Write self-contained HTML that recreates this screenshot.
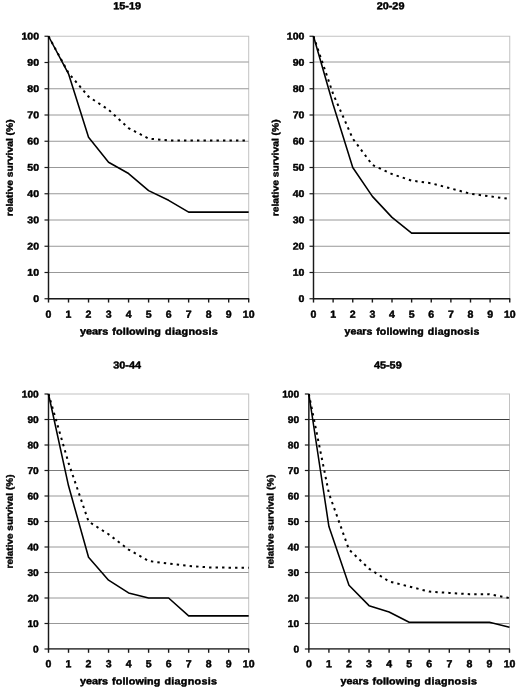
<!DOCTYPE html>
<html><head><meta charset="utf-8"><title>Relative survival</title>
<style>
html,body{margin:0;padding:0;background:#fff;}
body{width:520px;height:692px;overflow:hidden;}
svg{display:block;filter:blur(0.5px);}
text{font-family:"Liberation Sans",sans-serif;font-weight:bold;font-size:10px;fill:#000;stroke:#000;stroke-width:0.45px;stroke-linejoin:round;text-rendering:geometricPrecision;}
</style></head><body>
<svg width="520" height="692" viewBox="0 0 520 692">
<rect width="520" height="692" fill="#fff"/>

<g>
<rect x="48.5" y="36.25" width="200.2" height="262.5" fill="none" stroke="#c2c2c2" stroke-width="1"/>
<line x1="48.5" x2="248.7" y1="272.50" y2="272.50" stroke="#989898" stroke-width="1"/>
<line x1="48.5" x2="248.7" y1="246.25" y2="246.25" stroke="#989898" stroke-width="1"/>
<line x1="48.5" x2="248.7" y1="220.00" y2="220.00" stroke="#989898" stroke-width="1"/>
<line x1="48.5" x2="248.7" y1="193.75" y2="193.75" stroke="#989898" stroke-width="1"/>
<line x1="48.5" x2="248.7" y1="167.50" y2="167.50" stroke="#989898" stroke-width="1"/>
<line x1="48.5" x2="248.7" y1="141.25" y2="141.25" stroke="#989898" stroke-width="1"/>
<line x1="48.5" x2="248.7" y1="115.00" y2="115.00" stroke="#989898" stroke-width="1"/>
<line x1="48.5" x2="248.7" y1="88.75" y2="88.75" stroke="#989898" stroke-width="1"/>
<line x1="48.5" x2="248.7" y1="62.00" y2="62.00" stroke="#989898" stroke-width="1"/>
<line x1="48.5" x2="48.5" y1="36.25" y2="299.25" stroke="#1a1a1a" stroke-width="1.45"/>
<line x1="48.0" x2="249.2" y1="298.75" y2="298.75" stroke="#1a1a1a" stroke-width="1.5"/>
<line x1="44.5" x2="48.5" y1="298.75" y2="298.75" stroke="#1a1a1a" stroke-width="1.2"/>
<line x1="48.50" x2="48.50" y1="298.75" y2="302.55" stroke="#1a1a1a" stroke-width="1.4"/>
<line x1="44.5" x2="48.5" y1="272.50" y2="272.50" stroke="#1a1a1a" stroke-width="1.2"/>
<line x1="68.52" x2="68.52" y1="298.75" y2="302.55" stroke="#1a1a1a" stroke-width="1.4"/>
<line x1="44.5" x2="48.5" y1="246.25" y2="246.25" stroke="#1a1a1a" stroke-width="1.2"/>
<line x1="88.54" x2="88.54" y1="298.75" y2="302.55" stroke="#1a1a1a" stroke-width="1.4"/>
<line x1="44.5" x2="48.5" y1="220.00" y2="220.00" stroke="#1a1a1a" stroke-width="1.2"/>
<line x1="108.56" x2="108.56" y1="298.75" y2="302.55" stroke="#1a1a1a" stroke-width="1.4"/>
<line x1="44.5" x2="48.5" y1="193.75" y2="193.75" stroke="#1a1a1a" stroke-width="1.2"/>
<line x1="128.58" x2="128.58" y1="298.75" y2="302.55" stroke="#1a1a1a" stroke-width="1.4"/>
<line x1="44.5" x2="48.5" y1="167.50" y2="167.50" stroke="#1a1a1a" stroke-width="1.2"/>
<line x1="148.60" x2="148.60" y1="298.75" y2="302.55" stroke="#1a1a1a" stroke-width="1.4"/>
<line x1="44.5" x2="48.5" y1="141.25" y2="141.25" stroke="#1a1a1a" stroke-width="1.2"/>
<line x1="168.62" x2="168.62" y1="298.75" y2="302.55" stroke="#1a1a1a" stroke-width="1.4"/>
<line x1="44.5" x2="48.5" y1="115.00" y2="115.00" stroke="#1a1a1a" stroke-width="1.2"/>
<line x1="188.64" x2="188.64" y1="298.75" y2="302.55" stroke="#1a1a1a" stroke-width="1.4"/>
<line x1="44.5" x2="48.5" y1="88.75" y2="88.75" stroke="#1a1a1a" stroke-width="1.2"/>
<line x1="208.66" x2="208.66" y1="298.75" y2="302.55" stroke="#1a1a1a" stroke-width="1.4"/>
<line x1="44.5" x2="48.5" y1="62.50" y2="62.50" stroke="#1a1a1a" stroke-width="1.2"/>
<line x1="228.68" x2="228.68" y1="298.75" y2="302.55" stroke="#1a1a1a" stroke-width="1.4"/>
<line x1="44.5" x2="48.5" y1="36.25" y2="36.25" stroke="#1a1a1a" stroke-width="1.2"/>
<line x1="248.70" x2="248.70" y1="298.75" y2="302.55" stroke="#1a1a1a" stroke-width="1.4"/>
<text transform="translate(39.00,302.00) rotate(0.03) scale(1.055,0.98)" text-anchor="end">0</text>
<text transform="translate(48.50,317.65) rotate(0.03) scale(1.055,1.03)" text-anchor="middle">0</text>
<text transform="translate(39.00,275.75) rotate(0.03) scale(1.055,0.98)" text-anchor="end">10</text>
<text transform="translate(68.52,317.65) rotate(0.03) scale(1.055,1.03)" text-anchor="middle">1</text>
<text transform="translate(39.00,249.50) rotate(0.03) scale(1.055,0.98)" text-anchor="end">20</text>
<text transform="translate(88.54,317.65) rotate(0.03) scale(1.055,1.03)" text-anchor="middle">2</text>
<text transform="translate(39.00,223.25) rotate(0.03) scale(1.055,0.98)" text-anchor="end">30</text>
<text transform="translate(108.56,317.65) rotate(0.03) scale(1.055,1.03)" text-anchor="middle">3</text>
<text transform="translate(39.00,197.00) rotate(0.03) scale(1.055,0.98)" text-anchor="end">40</text>
<text transform="translate(128.58,317.65) rotate(0.03) scale(1.055,1.03)" text-anchor="middle">4</text>
<text transform="translate(39.00,170.75) rotate(0.03) scale(1.055,0.98)" text-anchor="end">50</text>
<text transform="translate(148.60,317.65) rotate(0.03) scale(1.055,1.03)" text-anchor="middle">5</text>
<text transform="translate(39.00,144.50) rotate(0.03) scale(1.055,0.98)" text-anchor="end">60</text>
<text transform="translate(168.62,317.65) rotate(0.03) scale(1.055,1.03)" text-anchor="middle">6</text>
<text transform="translate(39.00,118.25) rotate(0.03) scale(1.055,0.98)" text-anchor="end">70</text>
<text transform="translate(188.64,317.65) rotate(0.03) scale(1.055,1.03)" text-anchor="middle">7</text>
<text transform="translate(39.00,92.00) rotate(0.03) scale(1.055,0.98)" text-anchor="end">80</text>
<text transform="translate(208.66,317.65) rotate(0.03) scale(1.055,1.03)" text-anchor="middle">8</text>
<text transform="translate(39.00,65.75) rotate(0.03) scale(1.055,0.98)" text-anchor="end">90</text>
<text transform="translate(228.68,317.65) rotate(0.03) scale(1.055,1.03)" text-anchor="middle">9</text>
<text transform="translate(39.00,39.50) rotate(0.03) scale(1.055,0.98)" text-anchor="end">100</text>
<text transform="translate(248.70,317.65) rotate(0.03) scale(1.055,1.03)" text-anchor="middle">10</text>
<text transform="translate(127.10,9.35) rotate(0.03) scale(1.085,1.01)" text-anchor="middle">15-19</text>
<text transform="translate(149.10,334.65) rotate(0.03) scale(1.083,0.98)" text-anchor="middle" word-spacing="0.9">years <tspan letter-spacing="0.12">following</tspan> <tspan letter-spacing="0.27">diagnosis</tspan></text>
<text transform="translate(12.85,167.80) rotate(-89.97) scale(1.032,0.93)" text-anchor="middle">relative survival (%)</text>
<polyline points="48.50,36.25 68.52,73.00 88.54,96.62 108.56,109.75 128.58,128.12 148.60,138.62 168.62,140.46 188.64,140.46 208.66,140.46 228.68,140.46 248.70,140.46" fill="none" stroke="#000" stroke-width="2.0" stroke-dasharray="2.4 4.1"/>
<polyline points="48.50,36.25 68.52,73.79 88.54,137.31 108.56,162.25 128.58,173.54 148.60,190.60 168.62,200.31 188.64,212.12 208.66,212.12 228.68,212.12 248.70,212.12" fill="none" stroke="#000" stroke-width="1.55" stroke-linejoin="round"/>
</g>
<g>
<rect x="313.5" y="36.25" width="196.25" height="262.5" fill="none" stroke="#c2c2c2" stroke-width="1"/>
<line x1="313.5" x2="509.75" y1="272.50" y2="272.50" stroke="#989898" stroke-width="1"/>
<line x1="313.5" x2="509.75" y1="246.25" y2="246.25" stroke="#989898" stroke-width="1"/>
<line x1="313.5" x2="509.75" y1="220.00" y2="220.00" stroke="#989898" stroke-width="1"/>
<line x1="313.5" x2="509.75" y1="193.75" y2="193.75" stroke="#989898" stroke-width="1"/>
<line x1="313.5" x2="509.75" y1="167.50" y2="167.50" stroke="#989898" stroke-width="1"/>
<line x1="313.5" x2="509.75" y1="141.25" y2="141.25" stroke="#989898" stroke-width="1"/>
<line x1="313.5" x2="509.75" y1="115.00" y2="115.00" stroke="#989898" stroke-width="1"/>
<line x1="313.5" x2="509.75" y1="88.75" y2="88.75" stroke="#989898" stroke-width="1"/>
<line x1="313.5" x2="509.75" y1="62.00" y2="62.00" stroke="#989898" stroke-width="1"/>
<line x1="313.5" x2="313.5" y1="36.25" y2="299.25" stroke="#1a1a1a" stroke-width="1.45"/>
<line x1="313.0" x2="510.25" y1="298.75" y2="298.75" stroke="#1a1a1a" stroke-width="1.5"/>
<line x1="309.5" x2="313.5" y1="298.75" y2="298.75" stroke="#1a1a1a" stroke-width="1.2"/>
<line x1="313.50" x2="313.50" y1="298.75" y2="302.55" stroke="#1a1a1a" stroke-width="1.4"/>
<line x1="309.5" x2="313.5" y1="272.50" y2="272.50" stroke="#1a1a1a" stroke-width="1.2"/>
<line x1="333.12" x2="333.12" y1="298.75" y2="302.55" stroke="#1a1a1a" stroke-width="1.4"/>
<line x1="309.5" x2="313.5" y1="246.25" y2="246.25" stroke="#1a1a1a" stroke-width="1.2"/>
<line x1="352.75" x2="352.75" y1="298.75" y2="302.55" stroke="#1a1a1a" stroke-width="1.4"/>
<line x1="309.5" x2="313.5" y1="220.00" y2="220.00" stroke="#1a1a1a" stroke-width="1.2"/>
<line x1="372.38" x2="372.38" y1="298.75" y2="302.55" stroke="#1a1a1a" stroke-width="1.4"/>
<line x1="309.5" x2="313.5" y1="193.75" y2="193.75" stroke="#1a1a1a" stroke-width="1.2"/>
<line x1="392.00" x2="392.00" y1="298.75" y2="302.55" stroke="#1a1a1a" stroke-width="1.4"/>
<line x1="309.5" x2="313.5" y1="167.50" y2="167.50" stroke="#1a1a1a" stroke-width="1.2"/>
<line x1="411.62" x2="411.62" y1="298.75" y2="302.55" stroke="#1a1a1a" stroke-width="1.4"/>
<line x1="309.5" x2="313.5" y1="141.25" y2="141.25" stroke="#1a1a1a" stroke-width="1.2"/>
<line x1="431.25" x2="431.25" y1="298.75" y2="302.55" stroke="#1a1a1a" stroke-width="1.4"/>
<line x1="309.5" x2="313.5" y1="115.00" y2="115.00" stroke="#1a1a1a" stroke-width="1.2"/>
<line x1="450.88" x2="450.88" y1="298.75" y2="302.55" stroke="#1a1a1a" stroke-width="1.4"/>
<line x1="309.5" x2="313.5" y1="88.75" y2="88.75" stroke="#1a1a1a" stroke-width="1.2"/>
<line x1="470.50" x2="470.50" y1="298.75" y2="302.55" stroke="#1a1a1a" stroke-width="1.4"/>
<line x1="309.5" x2="313.5" y1="62.50" y2="62.50" stroke="#1a1a1a" stroke-width="1.2"/>
<line x1="490.12" x2="490.12" y1="298.75" y2="302.55" stroke="#1a1a1a" stroke-width="1.4"/>
<line x1="309.5" x2="313.5" y1="36.25" y2="36.25" stroke="#1a1a1a" stroke-width="1.2"/>
<line x1="509.75" x2="509.75" y1="298.75" y2="302.55" stroke="#1a1a1a" stroke-width="1.4"/>
<text transform="translate(304.45,302.00) rotate(0.03) scale(1.055,0.98)" text-anchor="end">0</text>
<text transform="translate(313.50,317.65) rotate(0.03) scale(1.055,1.03)" text-anchor="middle">0</text>
<text transform="translate(304.45,275.75) rotate(0.03) scale(1.055,0.98)" text-anchor="end">10</text>
<text transform="translate(333.12,317.65) rotate(0.03) scale(1.055,1.03)" text-anchor="middle">1</text>
<text transform="translate(304.45,249.50) rotate(0.03) scale(1.055,0.98)" text-anchor="end">20</text>
<text transform="translate(352.75,317.65) rotate(0.03) scale(1.055,1.03)" text-anchor="middle">2</text>
<text transform="translate(304.45,223.25) rotate(0.03) scale(1.055,0.98)" text-anchor="end">30</text>
<text transform="translate(372.38,317.65) rotate(0.03) scale(1.055,1.03)" text-anchor="middle">3</text>
<text transform="translate(304.45,197.00) rotate(0.03) scale(1.055,0.98)" text-anchor="end">40</text>
<text transform="translate(392.00,317.65) rotate(0.03) scale(1.055,1.03)" text-anchor="middle">4</text>
<text transform="translate(304.45,170.75) rotate(0.03) scale(1.055,0.98)" text-anchor="end">50</text>
<text transform="translate(411.62,317.65) rotate(0.03) scale(1.055,1.03)" text-anchor="middle">5</text>
<text transform="translate(304.45,144.50) rotate(0.03) scale(1.055,0.98)" text-anchor="end">60</text>
<text transform="translate(431.25,317.65) rotate(0.03) scale(1.055,1.03)" text-anchor="middle">6</text>
<text transform="translate(304.45,118.25) rotate(0.03) scale(1.055,0.98)" text-anchor="end">70</text>
<text transform="translate(450.88,317.65) rotate(0.03) scale(1.055,1.03)" text-anchor="middle">7</text>
<text transform="translate(304.45,92.00) rotate(0.03) scale(1.055,0.98)" text-anchor="end">80</text>
<text transform="translate(470.50,317.65) rotate(0.03) scale(1.055,1.03)" text-anchor="middle">8</text>
<text transform="translate(304.45,65.75) rotate(0.03) scale(1.055,0.98)" text-anchor="end">90</text>
<text transform="translate(490.12,317.65) rotate(0.03) scale(1.055,1.03)" text-anchor="middle">9</text>
<text transform="translate(304.45,39.50) rotate(0.03) scale(1.055,0.98)" text-anchor="end">100</text>
<text transform="translate(509.75,317.65) rotate(0.03) scale(1.055,1.03)" text-anchor="middle">10</text>
<text transform="translate(390.55,9.35) rotate(0.03) scale(1.085,1.01)" text-anchor="middle">20-29</text>
<text transform="translate(412.12,334.65) rotate(0.03) scale(1.058,0.98)" text-anchor="middle" word-spacing="0.9">years <tspan letter-spacing="0.12">following</tspan> <tspan letter-spacing="0.27">diagnosis</tspan></text>
<text transform="translate(278.55,167.80) rotate(-89.97) scale(1.032,0.93)" text-anchor="middle">relative survival (%)</text>
<polyline points="313.50,36.25 333.12,94.00 352.75,138.62 372.38,164.88 392.00,174.06 411.62,180.62 431.25,183.25 450.88,188.50 470.50,193.75 490.12,196.38 509.75,199.00" fill="none" stroke="#000" stroke-width="2.0" stroke-dasharray="2.4 4.1"/>
<polyline points="313.50,36.25 333.12,104.50 352.75,167.50 372.38,196.38 392.00,217.38 411.62,233.12 431.25,233.12 450.88,233.12 470.50,233.12 490.12,233.12 509.75,233.12" fill="none" stroke="#000" stroke-width="1.55" stroke-linejoin="round"/>
</g>
<g>
<rect x="48.5" y="394" width="200.2" height="255" fill="none" stroke="#c2c2c2" stroke-width="1"/>
<line x1="48.5" x2="248.7" y1="623.50" y2="623.50" stroke="#989898" stroke-width="1"/>
<line x1="48.5" x2="248.7" y1="598.00" y2="598.00" stroke="#989898" stroke-width="1"/>
<line x1="48.5" x2="248.7" y1="572.50" y2="572.50" stroke="#989898" stroke-width="1"/>
<line x1="48.5" x2="248.7" y1="547.00" y2="547.00" stroke="#989898" stroke-width="1"/>
<line x1="48.5" x2="248.7" y1="521.50" y2="521.50" stroke="#989898" stroke-width="1"/>
<line x1="48.5" x2="248.7" y1="496.00" y2="496.00" stroke="#989898" stroke-width="1"/>
<line x1="48.5" x2="248.7" y1="470.50" y2="470.50" stroke="#7c7c7c" stroke-width="1"/>
<line x1="48.5" x2="248.7" y1="445.00" y2="445.00" stroke="#989898" stroke-width="1"/>
<line x1="48.5" x2="248.7" y1="419.50" y2="419.50" stroke="#3c3c3c" stroke-width="1"/>
<line x1="48.5" x2="48.5" y1="394" y2="649.5" stroke="#1a1a1a" stroke-width="1.45"/>
<line x1="48.0" x2="249.2" y1="648.9" y2="648.9" stroke="#1a1a1a" stroke-width="1.3"/>
<line x1="44.5" x2="48.5" y1="649.00" y2="649.00" stroke="#1a1a1a" stroke-width="1.2"/>
<line x1="48.50" x2="48.50" y1="649" y2="652.8" stroke="#1a1a1a" stroke-width="1.4"/>
<line x1="44.5" x2="48.5" y1="623.50" y2="623.50" stroke="#1a1a1a" stroke-width="1.2"/>
<line x1="68.52" x2="68.52" y1="649" y2="652.8" stroke="#1a1a1a" stroke-width="1.4"/>
<line x1="44.5" x2="48.5" y1="598.00" y2="598.00" stroke="#1a1a1a" stroke-width="1.2"/>
<line x1="88.54" x2="88.54" y1="649" y2="652.8" stroke="#1a1a1a" stroke-width="1.4"/>
<line x1="44.5" x2="48.5" y1="572.50" y2="572.50" stroke="#1a1a1a" stroke-width="1.2"/>
<line x1="108.56" x2="108.56" y1="649" y2="652.8" stroke="#1a1a1a" stroke-width="1.4"/>
<line x1="44.5" x2="48.5" y1="547.00" y2="547.00" stroke="#1a1a1a" stroke-width="1.2"/>
<line x1="128.58" x2="128.58" y1="649" y2="652.8" stroke="#1a1a1a" stroke-width="1.4"/>
<line x1="44.5" x2="48.5" y1="521.50" y2="521.50" stroke="#1a1a1a" stroke-width="1.2"/>
<line x1="148.60" x2="148.60" y1="649" y2="652.8" stroke="#1a1a1a" stroke-width="1.4"/>
<line x1="44.5" x2="48.5" y1="496.00" y2="496.00" stroke="#1a1a1a" stroke-width="1.2"/>
<line x1="168.62" x2="168.62" y1="649" y2="652.8" stroke="#1a1a1a" stroke-width="1.4"/>
<line x1="44.5" x2="48.5" y1="470.50" y2="470.50" stroke="#1a1a1a" stroke-width="1.2"/>
<line x1="188.64" x2="188.64" y1="649" y2="652.8" stroke="#1a1a1a" stroke-width="1.4"/>
<line x1="44.5" x2="48.5" y1="445.00" y2="445.00" stroke="#1a1a1a" stroke-width="1.2"/>
<line x1="208.66" x2="208.66" y1="649" y2="652.8" stroke="#1a1a1a" stroke-width="1.4"/>
<line x1="44.5" x2="48.5" y1="419.50" y2="419.50" stroke="#1a1a1a" stroke-width="1.2"/>
<line x1="228.68" x2="228.68" y1="649" y2="652.8" stroke="#1a1a1a" stroke-width="1.4"/>
<line x1="44.5" x2="48.5" y1="394.00" y2="394.00" stroke="#1a1a1a" stroke-width="1.2"/>
<line x1="248.70" x2="248.70" y1="649" y2="652.8" stroke="#1a1a1a" stroke-width="1.4"/>
<text transform="translate(38.75,652.50) rotate(0.03) scale(1.02,0.98)" text-anchor="end">0</text>
<text transform="translate(48.50,667.20) rotate(0.03) scale(1.055,1.03)" text-anchor="middle">0</text>
<text transform="translate(38.75,627.00) rotate(0.03) scale(1.02,0.98)" text-anchor="end">10</text>
<text transform="translate(68.52,667.20) rotate(0.03) scale(1.055,1.03)" text-anchor="middle">1</text>
<text transform="translate(38.75,601.50) rotate(0.03) scale(1.02,0.98)" text-anchor="end">20</text>
<text transform="translate(88.54,667.20) rotate(0.03) scale(1.055,1.03)" text-anchor="middle">2</text>
<text transform="translate(38.75,576.00) rotate(0.03) scale(1.02,0.98)" text-anchor="end">30</text>
<text transform="translate(108.56,667.20) rotate(0.03) scale(1.055,1.03)" text-anchor="middle">3</text>
<text transform="translate(38.75,550.50) rotate(0.03) scale(1.02,0.98)" text-anchor="end">40</text>
<text transform="translate(128.58,667.20) rotate(0.03) scale(1.055,1.03)" text-anchor="middle">4</text>
<text transform="translate(38.75,525.00) rotate(0.03) scale(1.02,0.98)" text-anchor="end">50</text>
<text transform="translate(148.60,667.20) rotate(0.03) scale(1.055,1.03)" text-anchor="middle">5</text>
<text transform="translate(38.75,499.50) rotate(0.03) scale(1.02,0.98)" text-anchor="end">60</text>
<text transform="translate(168.62,667.20) rotate(0.03) scale(1.055,1.03)" text-anchor="middle">6</text>
<text transform="translate(38.75,474.00) rotate(0.03) scale(1.02,0.98)" text-anchor="end">70</text>
<text transform="translate(188.64,667.20) rotate(0.03) scale(1.055,1.03)" text-anchor="middle">7</text>
<text transform="translate(38.75,448.50) rotate(0.03) scale(1.02,0.98)" text-anchor="end">80</text>
<text transform="translate(208.66,667.20) rotate(0.03) scale(1.055,1.03)" text-anchor="middle">8</text>
<text transform="translate(38.75,423.00) rotate(0.03) scale(1.02,0.98)" text-anchor="end">90</text>
<text transform="translate(228.68,667.20) rotate(0.03) scale(1.055,1.03)" text-anchor="middle">9</text>
<text transform="translate(38.75,397.50) rotate(0.03) scale(1.02,0.98)" text-anchor="end">100</text>
<text transform="translate(248.70,667.20) rotate(0.03) scale(1.055,1.03)" text-anchor="middle">10</text>
<text transform="translate(127.10,368.45) rotate(0.03) scale(1.085,1.01)" text-anchor="middle">30-44</text>
<text transform="translate(148.60,684.40) rotate(0.03) scale(1.076,0.98)" text-anchor="middle" word-spacing="0.9">years <tspan letter-spacing="0.12">following</tspan> <tspan letter-spacing="0.27">diagnosis</tspan></text>
<text transform="translate(12.85,521.50) rotate(-89.97) scale(1.0,0.93)" text-anchor="middle">relative survival (%)</text>
<polyline points="48.50,394.00 68.52,462.85 88.54,521.50 108.56,534.25 128.58,549.55 148.60,561.02 168.62,563.58 188.64,565.87 208.66,567.40 228.68,567.65 248.70,567.65" fill="none" stroke="#000" stroke-width="2.0" stroke-dasharray="2.4 4.1"/>
<polyline points="48.50,394.00 68.52,485.80 88.54,557.20 108.56,580.15 128.58,592.90 148.60,598.00 168.62,598.00 188.64,615.85 208.66,615.85 228.68,615.85 248.70,615.85" fill="none" stroke="#000" stroke-width="1.55" stroke-linejoin="round"/>
</g>
<g>
<rect x="308.85" y="394" width="200.64999999999998" height="255" fill="none" stroke="#c2c2c2" stroke-width="1"/>
<line x1="308.85" x2="509.5" y1="623.50" y2="623.50" stroke="#989898" stroke-width="1"/>
<line x1="308.85" x2="509.5" y1="598.00" y2="598.00" stroke="#989898" stroke-width="1"/>
<line x1="308.85" x2="509.5" y1="572.50" y2="572.50" stroke="#989898" stroke-width="1"/>
<line x1="308.85" x2="509.5" y1="547.00" y2="547.00" stroke="#989898" stroke-width="1"/>
<line x1="308.85" x2="509.5" y1="521.50" y2="521.50" stroke="#989898" stroke-width="1"/>
<line x1="308.85" x2="509.5" y1="496.00" y2="496.00" stroke="#989898" stroke-width="1"/>
<line x1="308.85" x2="509.5" y1="470.50" y2="470.50" stroke="#7c7c7c" stroke-width="1"/>
<line x1="308.85" x2="509.5" y1="445.00" y2="445.00" stroke="#989898" stroke-width="1"/>
<line x1="308.85" x2="509.5" y1="419.50" y2="419.50" stroke="#3c3c3c" stroke-width="1"/>
<line x1="308.85" x2="308.85" y1="394" y2="649.5" stroke="#1a1a1a" stroke-width="1.45"/>
<line x1="308.35" x2="510.0" y1="648.9" y2="648.9" stroke="#1a1a1a" stroke-width="1.3"/>
<line x1="304.85" x2="308.85" y1="649.00" y2="649.00" stroke="#1a1a1a" stroke-width="1.2"/>
<line x1="308.85" x2="308.85" y1="649" y2="652.8" stroke="#1a1a1a" stroke-width="1.4"/>
<line x1="304.85" x2="308.85" y1="623.50" y2="623.50" stroke="#1a1a1a" stroke-width="1.2"/>
<line x1="328.92" x2="328.92" y1="649" y2="652.8" stroke="#1a1a1a" stroke-width="1.4"/>
<line x1="304.85" x2="308.85" y1="598.00" y2="598.00" stroke="#1a1a1a" stroke-width="1.2"/>
<line x1="348.98" x2="348.98" y1="649" y2="652.8" stroke="#1a1a1a" stroke-width="1.4"/>
<line x1="304.85" x2="308.85" y1="572.50" y2="572.50" stroke="#1a1a1a" stroke-width="1.2"/>
<line x1="369.05" x2="369.05" y1="649" y2="652.8" stroke="#1a1a1a" stroke-width="1.4"/>
<line x1="304.85" x2="308.85" y1="547.00" y2="547.00" stroke="#1a1a1a" stroke-width="1.2"/>
<line x1="389.11" x2="389.11" y1="649" y2="652.8" stroke="#1a1a1a" stroke-width="1.4"/>
<line x1="304.85" x2="308.85" y1="521.50" y2="521.50" stroke="#1a1a1a" stroke-width="1.2"/>
<line x1="409.18" x2="409.18" y1="649" y2="652.8" stroke="#1a1a1a" stroke-width="1.4"/>
<line x1="304.85" x2="308.85" y1="496.00" y2="496.00" stroke="#1a1a1a" stroke-width="1.2"/>
<line x1="429.24" x2="429.24" y1="649" y2="652.8" stroke="#1a1a1a" stroke-width="1.4"/>
<line x1="304.85" x2="308.85" y1="470.50" y2="470.50" stroke="#1a1a1a" stroke-width="1.2"/>
<line x1="449.31" x2="449.31" y1="649" y2="652.8" stroke="#1a1a1a" stroke-width="1.4"/>
<line x1="304.85" x2="308.85" y1="445.00" y2="445.00" stroke="#1a1a1a" stroke-width="1.2"/>
<line x1="469.37" x2="469.37" y1="649" y2="652.8" stroke="#1a1a1a" stroke-width="1.4"/>
<line x1="304.85" x2="308.85" y1="419.50" y2="419.50" stroke="#1a1a1a" stroke-width="1.2"/>
<line x1="489.44" x2="489.44" y1="649" y2="652.8" stroke="#1a1a1a" stroke-width="1.4"/>
<line x1="304.85" x2="308.85" y1="394.00" y2="394.00" stroke="#1a1a1a" stroke-width="1.2"/>
<line x1="509.50" x2="509.50" y1="649" y2="652.8" stroke="#1a1a1a" stroke-width="1.4"/>
<text transform="translate(299.20,652.50) rotate(0.03) scale(1.02,0.98)" text-anchor="end">0</text>
<text transform="translate(308.85,667.20) rotate(0.03) scale(1.055,1.03)" text-anchor="middle">0</text>
<text transform="translate(299.20,627.00) rotate(0.03) scale(1.02,0.98)" text-anchor="end">10</text>
<text transform="translate(328.92,667.20) rotate(0.03) scale(1.055,1.03)" text-anchor="middle">1</text>
<text transform="translate(299.20,601.50) rotate(0.03) scale(1.02,0.98)" text-anchor="end">20</text>
<text transform="translate(348.98,667.20) rotate(0.03) scale(1.055,1.03)" text-anchor="middle">2</text>
<text transform="translate(299.20,576.00) rotate(0.03) scale(1.02,0.98)" text-anchor="end">30</text>
<text transform="translate(369.05,667.20) rotate(0.03) scale(1.055,1.03)" text-anchor="middle">3</text>
<text transform="translate(299.20,550.50) rotate(0.03) scale(1.02,0.98)" text-anchor="end">40</text>
<text transform="translate(389.11,667.20) rotate(0.03) scale(1.055,1.03)" text-anchor="middle">4</text>
<text transform="translate(299.20,525.00) rotate(0.03) scale(1.02,0.98)" text-anchor="end">50</text>
<text transform="translate(409.18,667.20) rotate(0.03) scale(1.055,1.03)" text-anchor="middle">5</text>
<text transform="translate(299.20,499.50) rotate(0.03) scale(1.02,0.98)" text-anchor="end">60</text>
<text transform="translate(429.24,667.20) rotate(0.03) scale(1.055,1.03)" text-anchor="middle">6</text>
<text transform="translate(299.20,474.00) rotate(0.03) scale(1.02,0.98)" text-anchor="end">70</text>
<text transform="translate(449.31,667.20) rotate(0.03) scale(1.055,1.03)" text-anchor="middle">7</text>
<text transform="translate(299.20,448.50) rotate(0.03) scale(1.02,0.98)" text-anchor="end">80</text>
<text transform="translate(469.37,667.20) rotate(0.03) scale(1.055,1.03)" text-anchor="middle">8</text>
<text transform="translate(299.20,423.00) rotate(0.03) scale(1.02,0.98)" text-anchor="end">90</text>
<text transform="translate(489.44,667.20) rotate(0.03) scale(1.055,1.03)" text-anchor="middle">9</text>
<text transform="translate(299.20,397.50) rotate(0.03) scale(1.02,0.98)" text-anchor="end">100</text>
<text transform="translate(509.50,667.20) rotate(0.03) scale(1.055,1.03)" text-anchor="middle">10</text>
<text transform="translate(387.80,368.45) rotate(0.03) scale(1.085,1.01)" text-anchor="middle">45-59</text>
<text transform="translate(408.88,684.40) rotate(0.03) scale(1.07,0.98)" text-anchor="middle" word-spacing="0.9">years <tspan letter-spacing="0.12">following</tspan> <tspan letter-spacing="0.27">diagnosis</tspan></text>
<text transform="translate(273.60,521.50) rotate(-89.97) scale(1.0,0.93)" text-anchor="middle">relative survival (%)</text>
<polyline points="308.85,394.00 328.92,493.45 348.98,549.55 369.05,568.67 389.11,581.42 409.18,586.52 429.24,591.62 449.31,592.90 469.37,594.17 489.44,594.17 509.50,598.00" fill="none" stroke="#000" stroke-width="2.0" stroke-dasharray="2.4 4.1"/>
<polyline points="308.85,394.00 328.92,526.60 348.98,585.25 369.05,605.65 389.11,612.02 409.18,622.23 429.24,622.23 449.31,622.23 469.37,622.23 489.44,622.23 509.50,627.33" fill="none" stroke="#000" stroke-width="1.55" stroke-linejoin="round"/>
</g>
</svg></body></html>
